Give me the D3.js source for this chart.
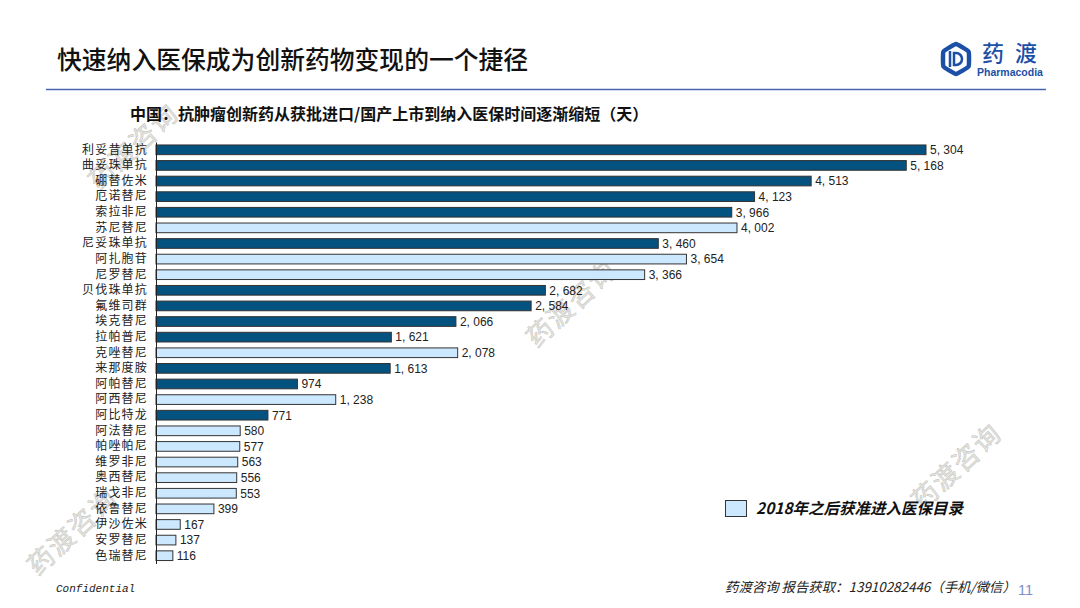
<!DOCTYPE html>
<html>
<head>
<meta charset="utf-8">
<script src="https://cdn.jsdelivr.net/npm/d3@7"></script>
<style>
  html, body { margin: 0; padding: 0; background: #fff; }
  svg { display: block; }
  text { font-family: "Noto Sans CJK SC", sans-serif; }
</style>
</head>
<body>
<div id="chart"></div>
<script>
const drugs = ['利妥昔单抗', '曲妥珠单抗', '硼替佐米', '厄诺替尼', '索拉非尼', '苏尼替尼', '尼妥珠单抗', '阿扎胞苷', '尼罗替尼', '贝伐珠单抗', '氟维司群', '埃克替尼', '拉帕普尼', '克唑替尼', '来那度胺', '阿帕替尼', '阿西替尼', '阿比特龙', '阿法替尼', '帕唑帕尼', '维罗非尼', '奥西替尼', '瑞戈非尼', '依鲁替尼', '伊沙佐米', '安罗替尼', '色瑞替尼'];
const days = [5304, 5168, 4513, 4123, 3966, 4002, 3460, 3654, 3366, 2682, 2584, 2066, 1621, 2078, 1613, 974, 1238, 771, 580, 577, 563, 556, 553, 399, 167, 137, 116];
const after2018 = ['苏尼替尼', '阿扎胞苷', '尼罗替尼', '克唑替尼', '阿西替尼', '阿法替尼', '帕唑帕尼', '维罗非尼', '奥西替尼', '瑞戈非尼', '依鲁替尼', '伊沙佐米', '安罗替尼', '色瑞替尼'];
const rows = drugs.map((d, i) => ({ drug: d, days: days[i] }));

const TITLE = '快速纳入医保成为创新药物变现的一个捷径';
const SUBTITLE = '中国：抗肿瘤创新药从获批进口/国产上市到纳入医保时间逐渐缩短（天）';
const LEGEND = '2018年之后获准进入医保目录';
const WATERMARK = '药渡咨询';

const DARK = '#04527f';
const LIGHT = '#cce8ff';
const fmt = v => d3.format(',')(v).replace(',', ', ');

const svg = d3.select('#chart').append('svg').attr('width', 1080).attr('height', 608);

// watermarks go under everything
svg.selectAll('.wm')
  .data([[132, 145], [570, 302], [71, 530], [955, 465]])
  .enter().append('text')
  .attr('class', 'wm')
  .attr('transform', d => `translate(${d[0]},${d[1]}) rotate(-43)`)
  .attr('text-anchor', 'middle')
  .attr('dominant-baseline', 'central')
  .attr('font-size', 26)
  .attr('letter-spacing', 2)
  .attr('fill', '#e4e4e0')
  .attr('stroke', '#c4c4c0')
  .attr('stroke-width', 0.5)
  .text(WATERMARK);

// header
svg.append('text').attr('x', 57).attr('y', 69)
  .attr('font-size', 24.8).attr('font-weight', 500).attr('fill', '#111')
  .text(TITLE);
svg.append('line').attr('x1', 46).attr('x2', 1046).attr('y1', 89.5).attr('y2', 89.5)
  .attr('stroke', '#4a63b0').attr('stroke-width', 1.6);
svg.append('text').attr('x', 130).attr('y', 120)
  .attr('font-size', 16).attr('font-weight', 700).attr('fill', '#111')
  .text(SUBTITLE);

// logo
const logo = svg.append('g').attr('transform', 'translate(956,59)').attr('fill', 'none').attr('stroke', '#1c4fa6');
const hex = d3.line().curve(d3.curveCardinalClosed.tension(0.7));
logo.append('path').attr('stroke-width', 4.5)
  .attr('d', hex(d3.range(6).map(i => [14.5 * Math.sin(i * Math.PI / 3), 15 * Math.cos(i * Math.PI / 3)])));
logo.append('path').attr('stroke-width', 2.5).attr('d', 'M-6,-8V8M-2,-6H0A6,6 0 0 1 0,6H-2Z');
svg.append('text').attr('x', 982).attr('y', 61)
  .attr('font-size', 22).attr('font-weight', 500).attr('letter-spacing', 11).attr('fill', '#1c4fa6')
  .text('药渡');
svg.append('text').attr('x', 977).attr('y', 76)
  .attr('font-size', 10.5).attr('font-weight', 700).attr('fill', '#1c4fa6')
  .style('font-family', '"Liberation Sans", sans-serif')
  .text('Pharmacodia');

// bars
const x = d3.scaleLinear().domain([0, 5304]).range([156, 926]);
const y = d3.scaleBand().domain(drugs).range([142, 563.5]).paddingInner(0.38).paddingOuter(0.19);

svg.append('g').selectAll('rect')
  .data(rows)
  .enter().append('rect')
  .attr('x', x(0))
  .attr('y', d => y(d.drug))
  .attr('width', d => x(d.days) - x(0))
  .attr('height', y.bandwidth())
  .attr('fill', d => after2018.includes(d.drug) ? LIGHT : DARK)
  .attr('stroke', '#333')
  .attr('stroke-width', 1);

const yAxis = svg.append('g')
  .attr('transform', `translate(${x(0)},0)`)
  .call(d3.axisLeft(y).tickSize(0).tickPadding(8));
yAxis.select('.domain').attr('stroke', '#222').attr('stroke-width', 1);
yAxis.selectAll('text')
  .attr('font-size', 12)
  .attr('letter-spacing', 1.2)
  .attr('fill', '#222')
  .style('font-family', '"Noto Sans CJK SC", sans-serif');

svg.append('g').selectAll('text')
  .data(rows)
  .enter().append('text')
  .attr('x', d => x(d.days) + 4)
  .attr('y', d => y(d.drug) + y.bandwidth() / 2)
  .attr('dy', '0.36em')
  .attr('font-size', 12)
  .attr('fill', '#222')
  .style('font-family', '"Liberation Sans", sans-serif')
  .text(d => fmt(d.days));

// legend
svg.append('rect').attr('x', 725.5).attr('y', 500.5).attr('width', 21).attr('height', 16)
  .attr('fill', LIGHT).attr('stroke', '#333');
svg.append('text').attr('x', 756).attr('y', 514)
  .attr('font-size', 15.5).attr('font-weight', 700).attr('font-style', 'italic').attr('fill', '#111')
  .text(LEGEND);

// footer
svg.append('text').attr('x', 56).attr('y', 592)
  .attr('font-size', 11).attr('font-style', 'italic').attr('fill', '#222')
  .style('font-family', '"Liberation Mono", monospace')
  .text('Confidential');
svg.append('text').attr('x', 725).attr('y', 592)
  .attr('font-size', 13.4).attr('font-style', 'italic').attr('fill', '#222')
  .text('药渡咨询 报告获取：13910282446（手机/微信）');
svg.append('text').attr('x', 1018).attr('y', 595)
  .attr('font-size', 14.5).attr('fill', '#7a8fc4')
  .style('font-family', '"Liberation Sans", sans-serif')
  .text('11');
</script>
</body>
</html>
